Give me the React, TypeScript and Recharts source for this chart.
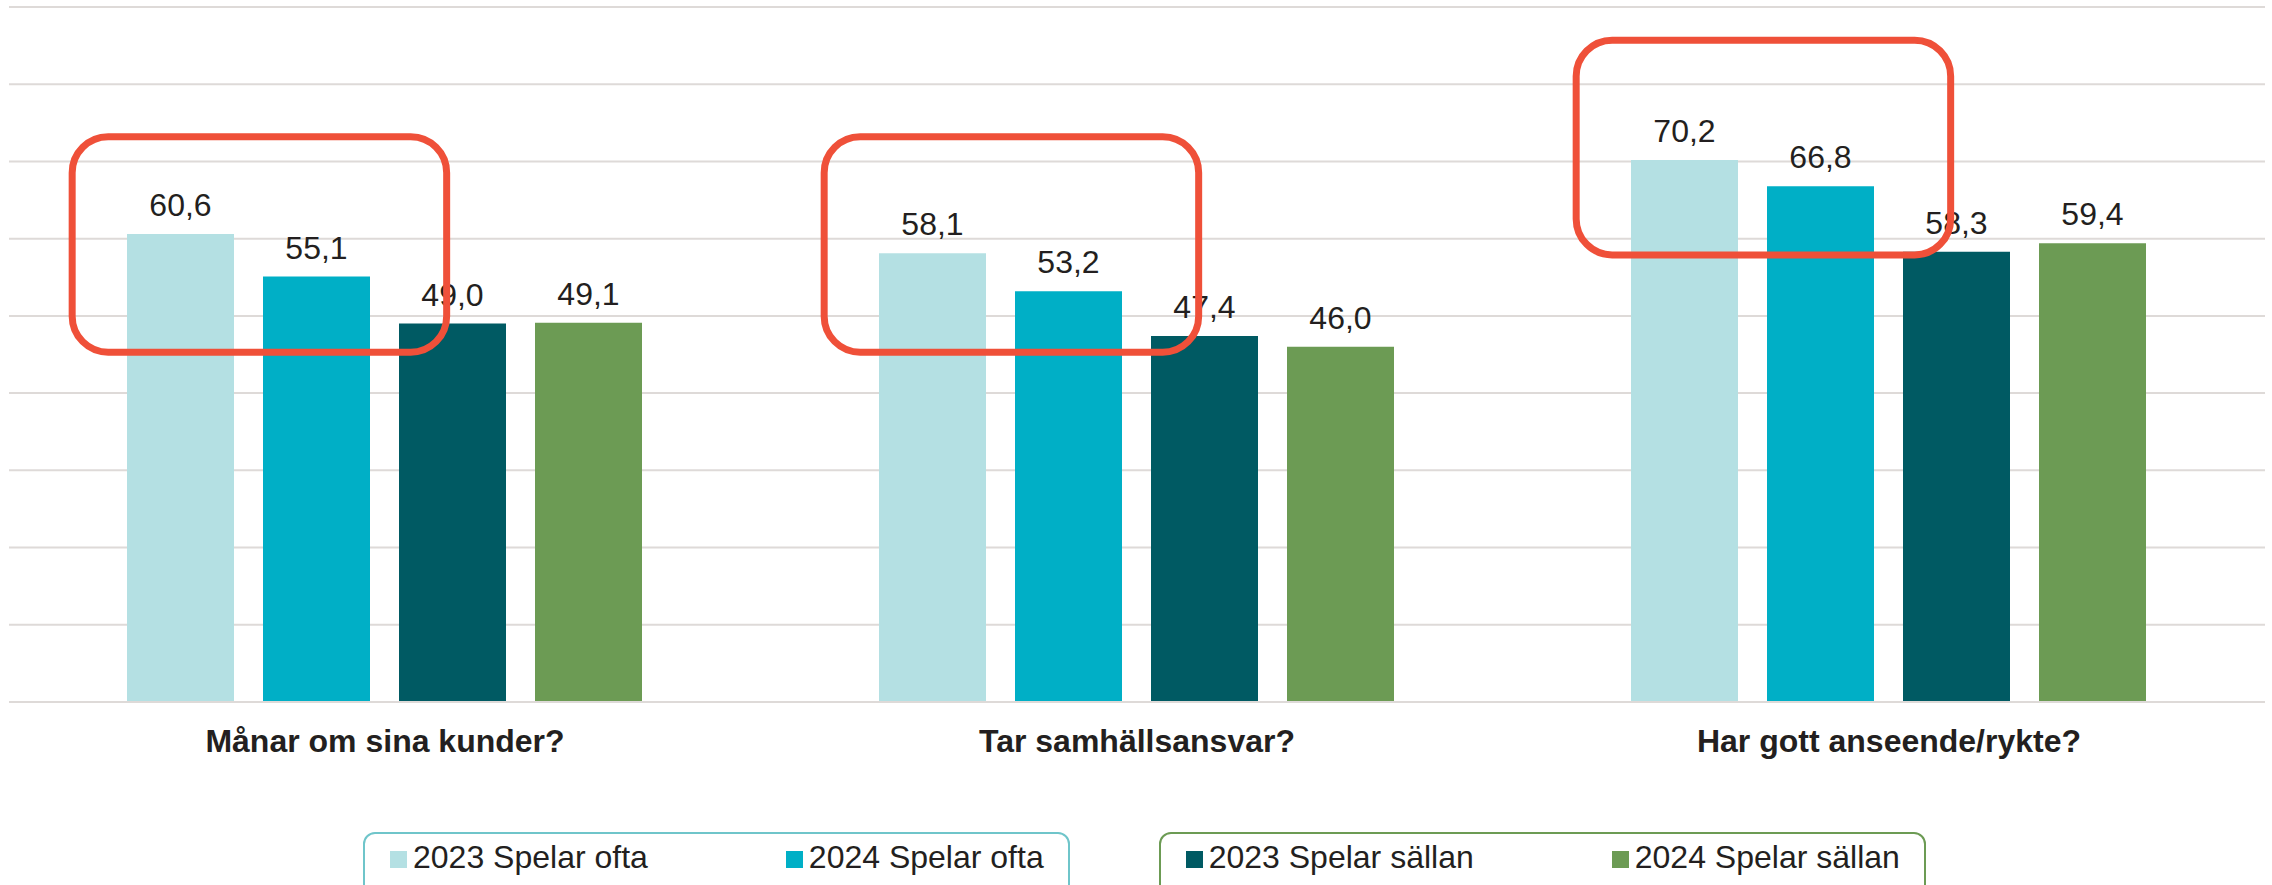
import { BarChart, Bar, XAxis, YAxis, CartesianGrid, LabelList, Legend, ReferenceArea } from "recharts"

const categories = ["Månar om sina kunder?", "Tar samhällsansvar?", "Har gott anseende/rykte?"]
const ofta2023 = [60.6, 58.1, 70.2]
const ofta2024 = [55.1, 53.2, 66.8]
const sallan2023 = [49.0, 47.4, 58.3]
const sallan2024 = [49.1, 46.0, 59.4]
const yTicks = [0, 10, 20, 30, 40, 50, 60, 70, 80, 90]

// highlight boxes drawn around the "Spelar ofta" pairs
const highlights = [
  { category: "Månar om sina kunder?", from: 45.3, to: 73.2 },
  { category: "Tar samhällsansvar?", from: 45.3, to: 73.2 },
  { category: "Har gott anseende/rykte?", from: 57.9, to: 85.7 },
]

const series = [
  { key: "o23", name: "2023 Spelar ofta", color: "#b4e0e3" },
  { key: "o24", name: "2024 Spelar ofta", color: "#00afc6" },
  { key: "s23", name: "2023 Spelar sällan", color: "#005a63" },
  { key: "s24", name: "2024 Spelar sällan", color: "#6c9b54" },
]

const data = categories.map((c, i) => ({
  category: c,
  o23: ofta2023[i],
  o24: ofta2024[i],
  s23: sallan2023[i],
  s24: sallan2024[i],
}))

const FONT = '"Liberation Sans", Arial, sans-serif'
const TEXT = "#231f20"
const GRID = "#dedad8"

const fmt = (v: any) => Number(v).toFixed(1).replace(".", ",")

function HighlightBox(props: any) {
  const { x, y, width, height } = props
  if (x == null || width == null) return null
  return (
    <rect
      x={x + width * 0.084}
      y={y}
      width={width * 0.498}
      height={height}
      rx={36}
      ry={36}
      fill="none"
      stroke="#ef5039"
      strokeWidth={7}
    />
  )
}

function LegendBoxes({ payload }: any) {
  const order = series.map((s) => s.name)
  const items = [...((payload || []) as any[])].sort(
    (a, b) => order.indexOf(a.value) - order.indexOf(b.value)
  )
  const groups = [
    { border: "#6fc5ca", entries: items.slice(0, 2) },
    { border: "#6c9b54", entries: items.slice(2, 4) },
  ]
  return (
    <div style={{ display: "flex", gap: 89, fontFamily: FONT, fontSize: 32, color: TEXT }}>
      {groups.map((g, gi) => (
        <div
          key={gi}
          style={{
            border: `2.5px solid ${g.border}`,
            borderRadius: 12,
            padding: "6.5px 24px 30px 25px",
            display: "flex",
            lineHeight: "32px",
            whiteSpace: "nowrap",
          }}
        >
          {g.entries.map((e: any, i: number) => (
            <span key={e.value} style={{ marginRight: i === 0 ? 138 : 0 }}>
              <span
                style={{
                  display: "inline-block",
                  width: 17,
                  height: 17,
                  background: e.color,
                  marginRight: 6,
                }}
              />
              {e.value}
            </span>
          ))}
        </div>
      ))}
    </div>
  )
}

export default function App() {
  return (
    <div style={{ position: "absolute", left: 0, top: 0, width: 2272, height: 885, background: "#fff", fontFamily: FONT }}>
      <BarChart
        width={2272}
        height={885}
        data={data}
        margin={{ top: 7, right: 7, left: 9, bottom: 123 }}
        barCategoryGap={118}
        barGap={29}
      >
        <CartesianGrid vertical={false} stroke={GRID} strokeWidth={2} />
        <XAxis
          dataKey="category"
          height={60}
          tickSize={0}
          tickMargin={27}
          axisLine={{ stroke: GRID, strokeWidth: 2 }}
          tick={{ fontSize: 32, fontWeight: 700, fill: TEXT, fontFamily: FONT }}
        />
        <YAxis hide domain={[0, 90]} ticks={yTicks} />
        {series.map((s) => (
          <Bar key={s.key} dataKey={s.key} name={s.name} fill={s.color} isAnimationActive={false}>
            <LabelList
              dataKey={s.key}
              position="top"
              offset={18}
              formatter={fmt}
              style={{ fontSize: 32, fill: TEXT, fontFamily: FONT }}
            />
          </Bar>
        ))}
        <Legend
          layout="horizontal"
          verticalAlign="middle"
          align="center"
          wrapperStyle={{ left: 363, top: 832, width: "auto" }}
          content={<LegendBoxes />}
        />
        {highlights.map((h) => (
          <ReferenceArea
            key={h.category}
            x1={h.category}
            x2={h.category}
            y1={h.from}
            y2={h.to}
            ifOverflow="visible"
            shape={<HighlightBox />}
            zIndex={3000}
          />
        ))}
      </BarChart>
    </div>
  )
}
